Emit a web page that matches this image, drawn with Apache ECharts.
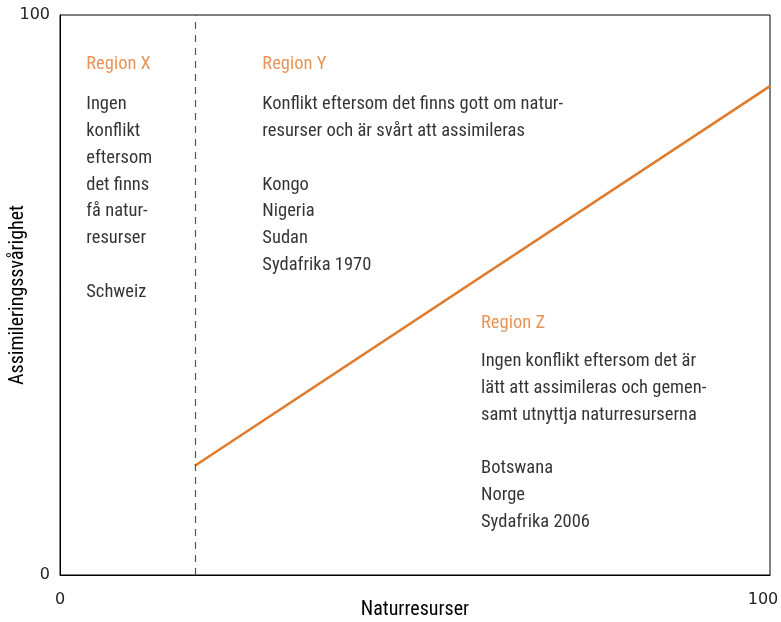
<!DOCTYPE html>
<html lang="sv">
<head>
<meta charset="utf-8">
<title>Naturresurser och assimilering</title>
<script src="https://cdn.jsdelivr.net/npm/echarts@6/dist/echarts.min.js"></script>
<style>
  html, body { margin: 0; padding: 0; background: #fff; }
  #main { width: 781px; height: 622px; }
</style>
</head>
<body>
<div id="main"></div>
<script>
// axlar
var axisMin = 0;
var axisMax = 100;
var xName = 'Naturresurser';
var yName = 'Assimileringssvårighet';

// gränsen mellan region X och övriga
var boundaryX = 19;

// den orange linjen (x, y)
var lineX = [19, 100];
var lineY = [19.5, 87.3];

// regioner
var regionNames = ['Region X', 'Region Y', 'Region Z'];
var regionTexts = [
  'Ingen\nkonflikt\neftersom\ndet finns\nfå natur-\nresurser\n\nSchweiz',
  'Konflikt eftersom det finns gott om natur-\nresurser och är svårt att assimileras\n\nKongo\nNigeria\nSudan\nSydafrika 1970',
  'Ingen konflikt eftersom det är\nlätt att assimileras och gemen-\nsamt utnyttja naturresurserna\n\nBotswana\nNorge\nSydafrika 2006'
];
// ankarpunkter för texterna (datakoordinater, övre vänstra hörnet)
var regionX = [3.7, 28.5, 59.3];
var headY = [93.6, 93.6, 47.4];
var bodyY = [86.4, 86.4, 40.5];

var orange = '#e07b2c';
var textFont = '"Liberation Sans Narrow", "Roboto Condensed", Roboto, sans-serif';

var chart = echarts.init(document.getElementById('main'));

var headData = regionNames.map(function (n, i) {
  return { value: [regionX[i], headY[i]], name: n };
});
var bodyData = regionTexts.map(function (t, i) {
  return { value: [regionX[i], bodyY[i]], name: t };
});

chart.setOption({
  animation: false,
  grid: {
    left: 60, right: 11, top: 15, bottom: 47,
    containLabel: false, outerBoundsMode: 'none',
    show: true, borderColor: '#000', borderWidth: 1
  },
  xAxis: {
    type: 'value', min: axisMin, max: axisMax, interval: 100,
    name: xName, nameLocation: 'middle', nameGap: 25, nameMoveOverlap: false,
    nameTextStyle: { fontFamily: textFont, fontSize: 20, color: '#000' },
    axisLine: { show: true, lineStyle: { color: '#000', width: 1 } },
    axisTick: { show: false },
    splitLine: { show: false },
    axisLabel: {
      margin: 17, fontFamily: 'DejaVu Sans', fontSize: 16, color: '#222',
      formatter: function (v) { return v === axisMax ? '{r|' + v + '}' : String(v); },
      rich: { r: { fontFamily: 'DejaVu Sans', fontSize: 16, color: '#222', padding: [0, 14, 0, 0] } }
    }
  },
  yAxis: {
    type: 'value', min: axisMin, max: axisMax, interval: 100,
    name: yName, nameLocation: 'middle', nameGap: 32, nameMoveOverlap: false,
    nameTextStyle: { fontFamily: textFont, fontSize: 20, color: '#000' },
    axisLine: { show: true, lineStyle: { color: '#000', width: 1 } },
    axisTick: { show: false },
    splitLine: { show: false },
    axisLabel: { margin: 10, fontFamily: 'DejaVu Sans', fontSize: 16, color: '#222' }
  },
  series: [
    {
      type: 'line',
      data: [[lineX[0], lineY[0]], [lineX[1], lineY[1]]],
      symbol: 'none',
      lineStyle: { color: orange, width: 2.5 },
      markLine: {
        silent: true,
        symbol: 'none',
        label: { show: false },
        lineStyle: { color: '#555', type: [7, 6], width: 1.2 },
        data: [{ xAxis: boundaryX }]
      }
    },
    {
      type: 'scatter',
      data: headData,
      symbolSize: 0,
      label: {
        show: true, position: [0, 0], align: 'left', verticalAlign: 'top',
        formatter: '{b}',
        color: orange, fontFamily: textFont, fontSize: 18.5, lineHeight: 27
      }
    },
    {
      type: 'scatter',
      data: bodyData,
      symbolSize: 0,
      label: {
        show: true, position: [0, 0], align: 'left', verticalAlign: 'top',
        formatter: '{b}',
        color: '#000', fontFamily: textFont, fontSize: 18.5, lineHeight: 26.8
      }
    }
  ]
});
</script>
</body>
</html>
